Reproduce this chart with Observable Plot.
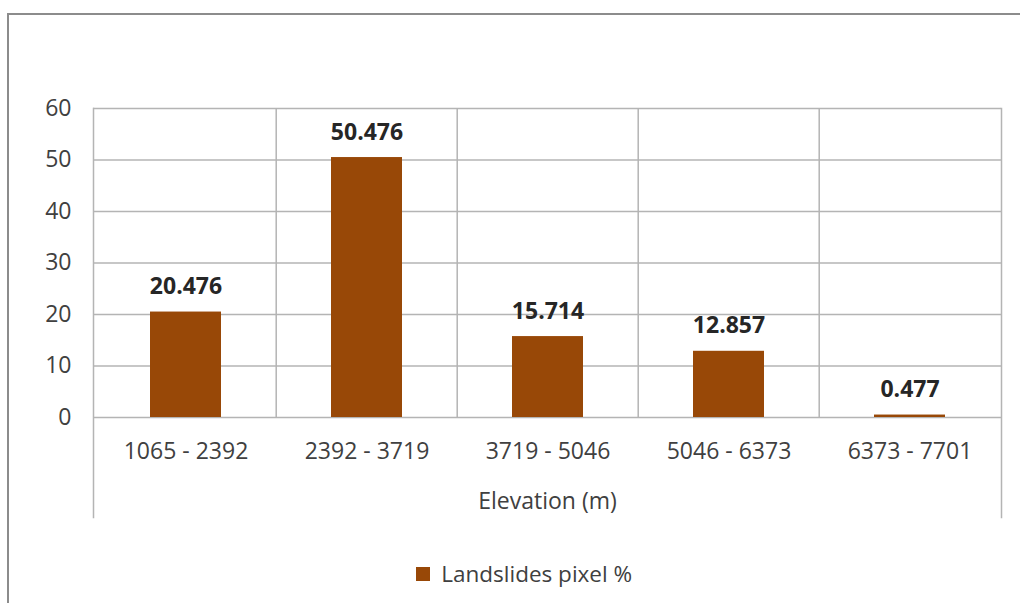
<!DOCTYPE html>
<html>
<head>
<meta charset="utf-8">
<script src="https://cdn.jsdelivr.net/npm/d3@7"></script>
<script src="https://cdn.jsdelivr.net/npm/@observablehq/plot@0.6"></script>
<style>
  html, body { margin: 0; padding: 0; background: #fff; overflow: hidden; width: 1020px; height: 603px; }
  #border { position: absolute; left: 7px; top: 13px; width: 1100px; height: 700px;
            border-left: 2px solid #8c8c8c; border-top: 2px solid #8c8c8c; }
  #chart { position: absolute; left: 0; top: 0; }
  #legend { position: absolute; left: 416px; top: 557px; }
</style>
</head>
<body>
<div id="border"></div>
<div id="chart"></div>
<div id="legend"></div>
<script>
const categories = ["1065 - 2392", "2392 - 3719", "3719 - 5046", "5046 - 6373", "6373 - 7701"];
const values = [20.476, 50.476, 15.714, 12.857, 0.477];
const yTicks = [0, 10, 20, 30, 40, 50, 60];
const xTitle = "Elevation (m)";
const seriesName = "Landslides pixel %";

const brown = "#984807";
const gridColor = "#b4b4b4";
const W = 1020, H = 548, ML = 93, MR = 19, MT = 108, MB = H - 417;
const bw = (W - ML - MR) / categories.length;

const data = categories.map((c, i) => ({cat: c, value: values[i]}));

const chart = Plot.plot({
  width: W, height: H,
  marginLeft: ML, marginRight: MR, marginTop: MT, marginBottom: MB,
  style: {fontFamily: "'Open Sans', sans-serif", fontSize: "23px", color: "#404040", background: "transparent", overflow: "visible"},
  x: {domain: categories, padding: 0, label: null},
  y: {domain: [0, 60], label: null},
  marks: [
    Plot.gridY(yTicks, {stroke: gridColor, strokeOpacity: 1, strokeWidth: 1.5}),
    Plot.ruleX(categories.slice(1), {x: d => d, dx: -bw / 2, stroke: gridColor, strokeWidth: 1.5}),
    Plot.frame({anchor: "left", insetBottom: -100, stroke: gridColor, strokeWidth: 1.5}),
    Plot.frame({anchor: "right", insetBottom: -100, stroke: gridColor, strokeWidth: 1.5}),
    Plot.barY(data, {x: "cat", y: "value", fill: brown, insetLeft: 55, insetRight: 55}),
    Plot.text(data, {x: "cat", y: "value", text: d => String(d.value), dy: -18, lineAnchor: "bottom",
      fontWeight: "bold", fontSize: 23, fill: "#262626"}),
    Plot.axisY(yTicks, {tickSize: 0, tickPadding: 22, label: null, fontSize: 23}),
    Plot.axisX({tickSize: 0, tickPadding: 25, label: xTitle, labelAnchor: "center", labelOffset: 91, fontSize: 23})
  ]
});
document.getElementById("chart").appendChild(chart);

const legend = Plot.legend({
  color: {type: "categorical", domain: [seriesName], range: [brown]},
  swatchSize: 14,
  style: {fontFamily: "'Open Sans', sans-serif", fontSize: "22.5px", color: "#404040"}
});
document.getElementById("legend").appendChild(legend);
</script>
</body>
</html>
